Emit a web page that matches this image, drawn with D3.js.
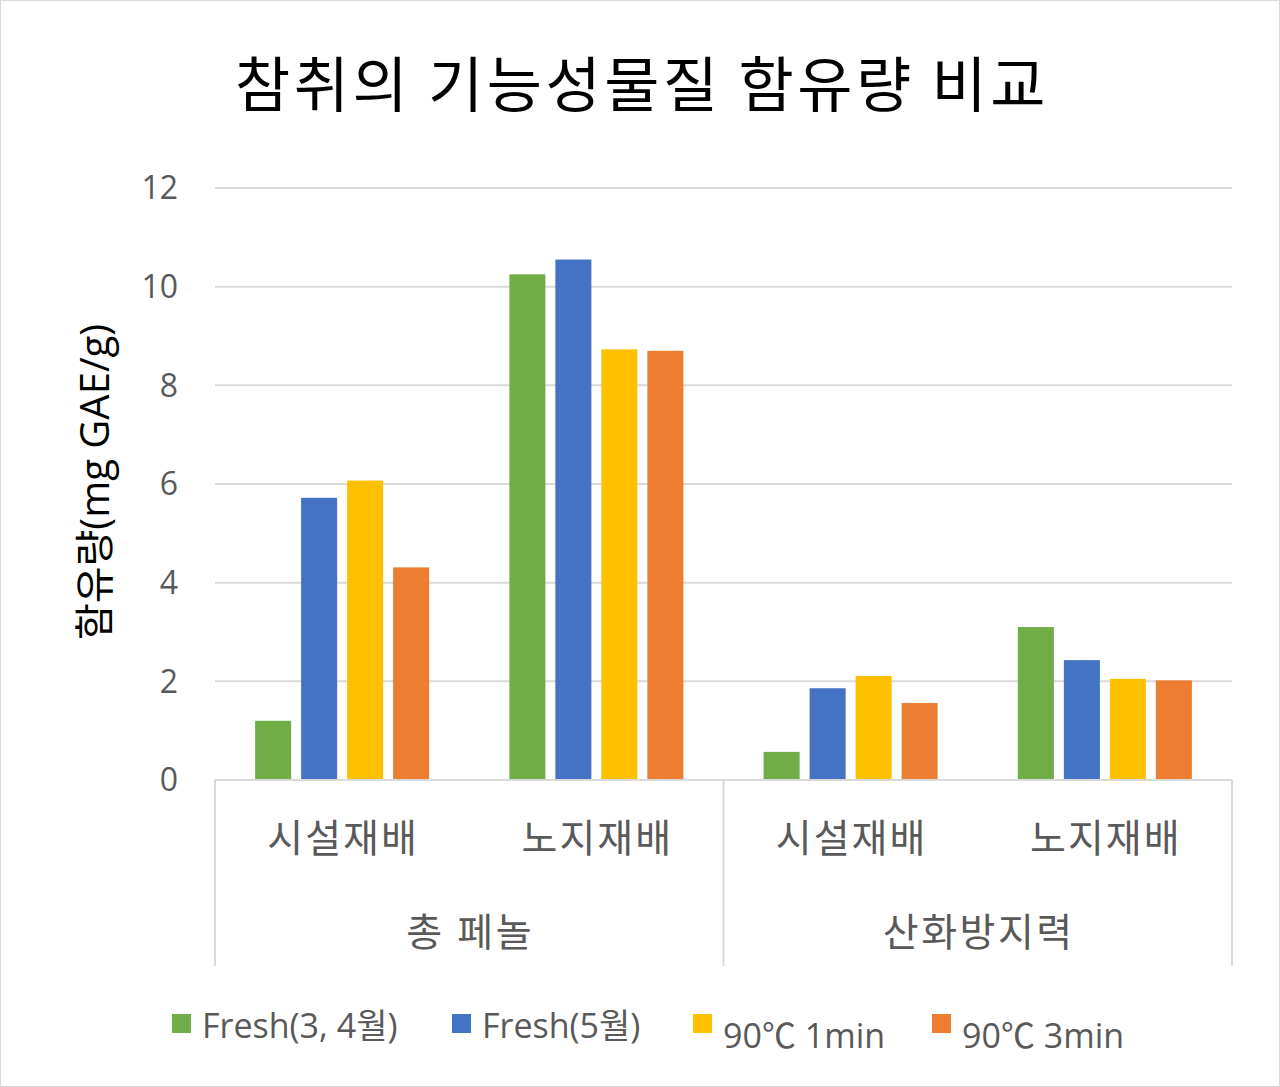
<!DOCTYPE html>
<html><head><meta charset="utf-8">
<script src="https://cdn.jsdelivr.net/npm/d3@7"></script>
<style>body{margin:0;background:#fff}svg{display:block}</style>
</head><body>
<script>
const title = "참취의 기능성물질 함유량 비교";
const yTitle = "함유량(mg GAE/g)";
const groups = ["총 페놀", "산화방지력"];
const subCats = ["시설재배", "노지재배"];
const seriesNames = ["Fresh(3, 4월)", "Fresh(5월)", "90℃ 1min", "90℃ 3min"];
const colors = ["#70ad47", "#4472c4", "#ffc000", "#ed7d31"];
// values per category in order: 총페놀-시설, 총페놀-노지, 산화-시설, 산화-노지
const fresh34 = [1.20, 10.25, 0.57, 3.10];
const fresh5  = [5.72, 10.55, 1.86, 2.43];
const heat1   = [6.07, 8.73, 2.11, 2.05];
const heat3   = [4.31, 8.70, 1.56, 2.02];
const yTicks = [0, 2, 4, 6, 8, 10, 12];

const seriesVals = [fresh34, fresh5, heat1, heat3];
const cats = [];
groups.forEach(g => subCats.forEach(s => cats.push(g + "|" + s)));

const W = 1280, H = 1087;
const pLeft = 215, pRight = 1232, pTop = 188, pBottom = 780;
const svg = d3.select("body").append("svg").attr("width", W).attr("height", H);
const font = "'Open Sans','Noto Sans CJK KR',sans-serif";
svg.append("rect").attr("x",0.5).attr("y",0.5).attr("width",W-1).attr("height",H-1)
  .attr("fill","#fff").attr("stroke","#d9d9d9").attr("stroke-width",1);

const y = d3.scaleLinear().domain([0, 12]).range([pBottom, pTop]);
const x0 = d3.scaleBand().domain(cats).range([pLeft, pRight]).padding(0);
const x1 = d3.scaleBand().domain(seriesNames).range([0, x0.bandwidth()])
  .paddingInner(0.217).paddingOuter(0.872);

// gridlines
svg.append("g").selectAll("line").data(yTicks.filter(d=>d>0)).join("line")
  .attr("x1", pLeft).attr("x2", pRight).attr("y1", d=>y(d)).attr("y2", d=>y(d))
  .attr("stroke","#d9d9d9").attr("stroke-width",2);

// y tick labels
svg.append("g").selectAll("text").data(yTicks).join("text")
  .attr("x", 178).attr("y", d=>y(d)).attr("dy","0.35em").attr("text-anchor","end")
  .attr("font-family", font).attr("font-size", 32).attr("fill","#595959").text(d=>d);

// bars
seriesNames.forEach((s, si) => {
  svg.append("g").selectAll("rect").data(seriesVals[si]).join("rect")
    .attr("x", (d,i)=>x0(cats[i]) + x1(s)).attr("width", x1.bandwidth())
    .attr("y", d=>y(d)).attr("height", d=>pBottom - y(d)).attr("fill", colors[si]);
});

// category axis
const axisG = svg.append("g");
axisG.append("line").attr("x1", pLeft).attr("x2", pRight).attr("y1", pBottom).attr("y2", pBottom)
  .attr("stroke","#d9d9d9").attr("stroke-width",2);
const sepX = [pLeft, x0(cats[2]), pRight];
axisG.selectAll("line.sep").data(sepX).join("line").attr("class","sep")
  .attr("x1", d=>d).attr("x2", d=>d).attr("y1", pBottom).attr("y2", 966)
  .attr("stroke","#d9d9d9").attr("stroke-width",2);
axisG.selectAll("text.sub").data(cats).join("text").attr("class","sub")
  .attr("x", d=>x0(d) + x0.bandwidth()/2 + 1).attr("y", 838).attr("dy","0.35em")
  .attr("text-anchor","middle").attr("font-family", font).attr("font-size", 39)
  .attr("letter-spacing", 2).attr("fill","#595959").text(d=>d.split("|")[1]);
axisG.selectAll("text.grp").data(groups).join("text").attr("class","grp")
  .attr("x", (g,i)=>x0(cats[i*2]) + x0.bandwidth() + 1).attr("y", 932).attr("dy","0.35em")
  .attr("text-anchor","middle").attr("font-family", font).attr("font-size", 39)
  .attr("letter-spacing", 2.5).attr("fill","#595959").text(d=>d);

// title
svg.append("text").attr("x", 642).attr("y", 86).attr("dy","0.35em").attr("text-anchor","middle")
  .attr("font-family", "'Noto Sans CJK KR',sans-serif").attr("font-size", 60)
  .attr("letter-spacing", 3.5).attr("fill","#000").text(title);

// y title
svg.append("text").attr("transform","translate(95,482) rotate(-90)").attr("dy","0.35em")
  .attr("text-anchor","middle").attr("font-family", font).attr("font-size", 40)
  .attr("fill","#000").text(yTitle);

// legend
const legX = [172, 452, 693, 932];
const legTextY = [1026, 1026, 1036, 1036];
const leg = svg.append("g");
seriesNames.forEach((s, i) => {
  leg.append("rect").attr("x", legX[i]).attr("y", 1014).attr("width", 19).attr("height", 19).attr("fill", colors[i]);
  leg.append("text").attr("x", legX[i] + 30).attr("y", legTextY[i]).attr("dy","0.35em")
    .attr("font-family", font).attr("font-size", 34).attr("fill","#595959").text(s);
});
</script>
</body></html>
